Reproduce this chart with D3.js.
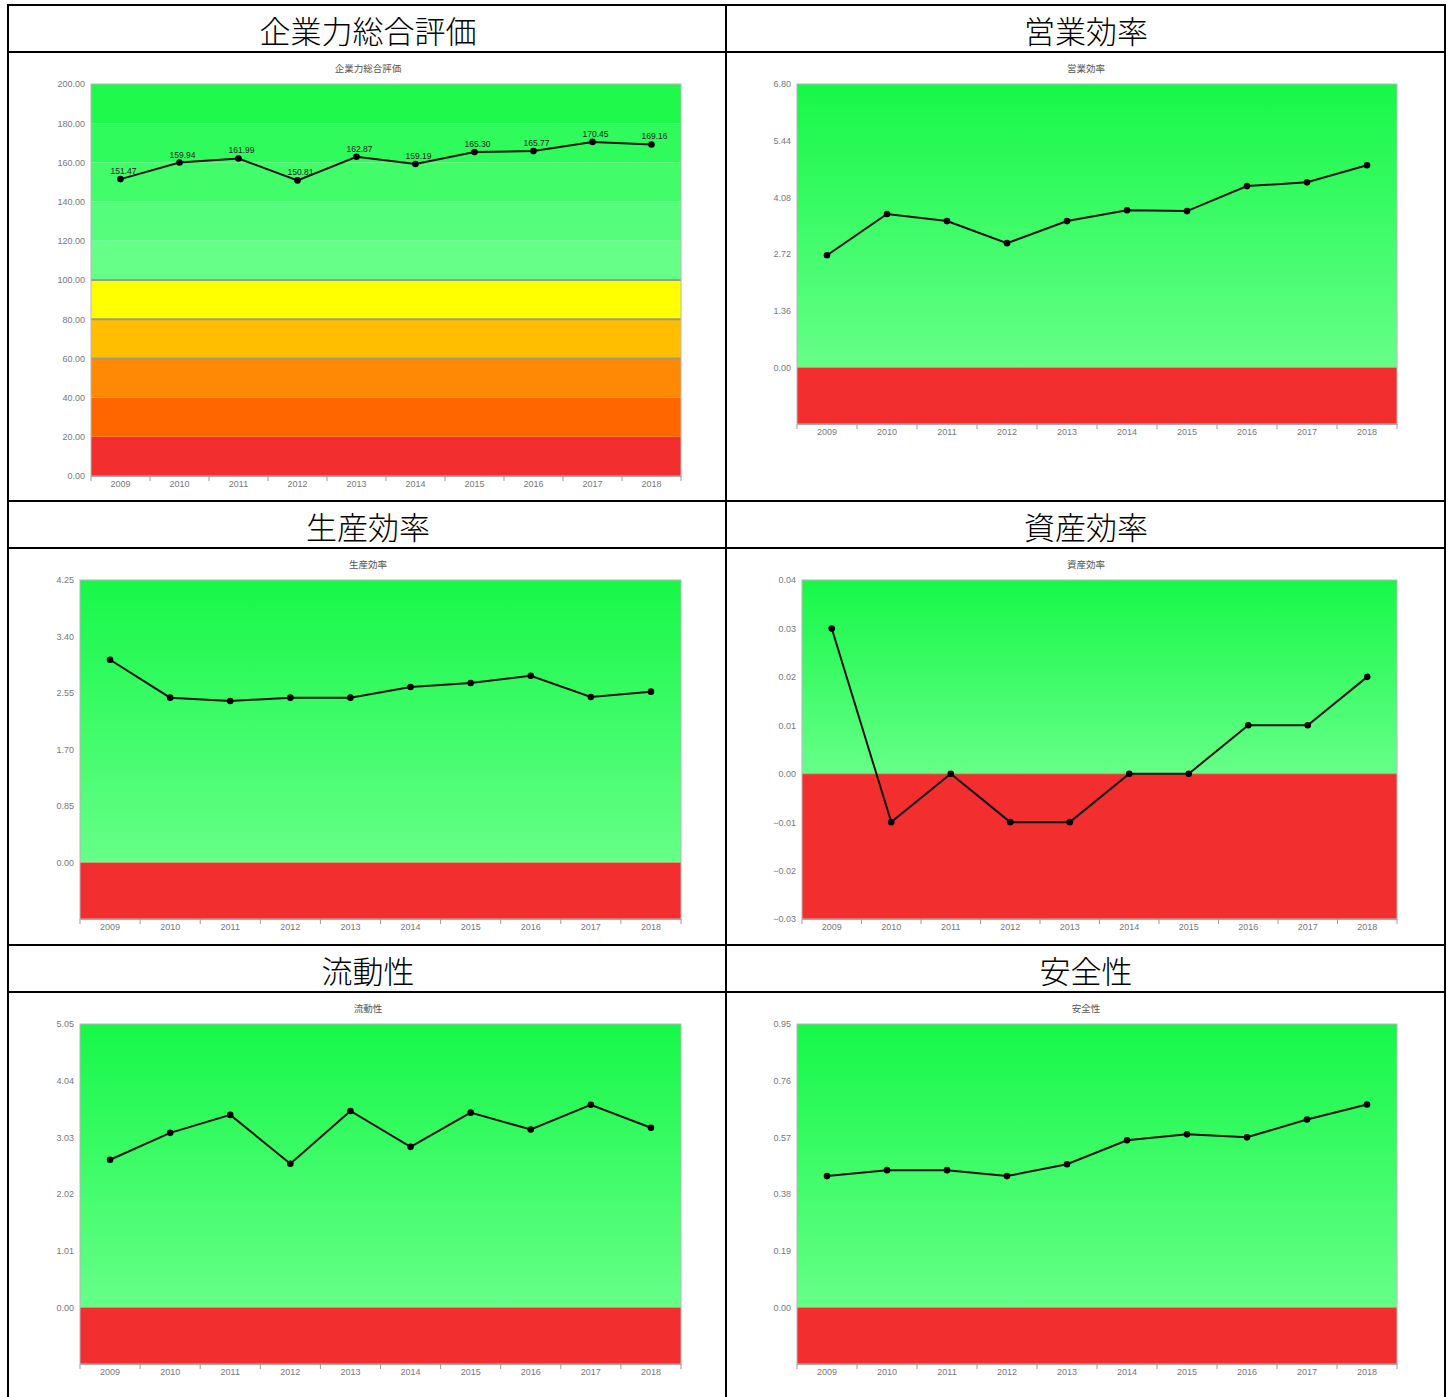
<!DOCTYPE html>
<html><head><meta charset="utf-8">
<script src="https://cdn.jsdelivr.net/npm/d3@7/dist/d3.min.js"></script>
<style>body{margin:0;background:#fff}svg{display:block}</style>
</head><body>
<svg id="c" width="1453" height="1397"></svg>
<script>
// ---- data ----
const years = ["2009","2010","2011","2012","2013","2014","2015","2016","2017","2018"];
const titles = ["企業力総合評価","営業効率","生産効率","資産効率","流動性","安全性"];
const overallValues = [151.47,159.94,161.99,150.81,162.87,159.19,165.30,165.77,170.45,169.16];
const salesEffValues = [2.69,3.68,3.51,2.98,3.51,3.77,3.75,4.35,4.44,4.85];
const prodEffValues = [3.05,2.48,2.43,2.48,2.48,2.64,2.70,2.81,2.49,2.57];
const assetEffValues = [0.03,-0.01,0.00,-0.01,-0.01,0.00,0.00,0.01,0.01,0.02];
const liquidityValues = [2.63,3.11,3.43,2.56,3.50,2.86,3.47,3.17,3.61,3.20];
const safetyValues = [0.44,0.46,0.46,0.44,0.48,0.56,0.58,0.57,0.63,0.68];
const overallTicks = [0,20,40,60,80,100,120,140,160,180,200];
const salesEffTicks = [0,1.36,2.72,4.08,5.44,6.80];
const prodEffTicks = [0,0.85,1.70,2.55,3.40,4.25];
const assetEffTicks = [-0.03,-0.02,-0.01,0,0.01,0.02,0.03,0.04];
const liquidityTicks = [0,1.01,2.02,3.03,4.04,5.05];
const safetyTicks = [0,0.19,0.38,0.57,0.76,0.95];
const overallBandEdges = [0,20,40,60,80,100,120,140,160,180,200];

// ---- layout ----
const svg = d3.select("#c");
const defs = svg.append("defs");
const RED = "#f22e2e";
const overallBandColors = ["#f22e2e","#ff6600","#ff8805","#ffbf00","#ffff00",
  "#66ff88","#55fd7c","#42fc6a","#30fb5c","#1ef94c"];

const charts = [
  {title:titles[0], values:overallValues, ticks:overallTicks, domain:[0,200], x0:91, x1:681, y0:84, y1:476, cx:368, ty:72, overall:true},
  {title:titles[1], values:salesEffValues, ticks:salesEffTicks, domain:[-1.36,6.80], x0:797, x1:1397, y0:84, y1:424, cx:1086, ty:72},
  {title:titles[2], values:prodEffValues, ticks:prodEffTicks, domain:[-0.85,4.25], x0:80, x1:681, y0:580, y1:919, cx:368, ty:568},
  {title:titles[3], values:assetEffValues, ticks:assetEffTicks, domain:[-0.03,0.04], x0:802, x1:1397, y0:580, y1:919, cx:1086, ty:568},
  {title:titles[4], values:liquidityValues, ticks:liquidityTicks, domain:[-1.01,5.05], x0:80, x1:681, y0:1024, y1:1364, cx:368, ty:1012},
  {title:titles[5], values:safetyValues, ticks:safetyTicks, domain:[-0.19,0.95], x0:797, x1:1397, y0:1024, y1:1364, cx:1086, ty:1012}
];

// gradient
const g = defs.append("linearGradient").attr("id","grn").attr("x1",0).attr("y1",0).attr("x2",0).attr("y2",1);
g.append("stop").attr("offset","0%").attr("stop-color","#16f848");
g.append("stop").attr("offset","100%").attr("stop-color","#66ff88");

const fmt = d3.format(".2f");

charts.forEach((c, i) => {
  const gc = svg.append("g");
  const x = d3.scaleBand().domain(years).range([c.x0, c.x1]);
  const y = d3.scaleLinear().domain(c.domain).range([c.y1, c.y0]);

  gc.append("text").attr("x", c.cx).attr("y", c.ty).attr("text-anchor","middle")
    .attr("font-family","'Noto Sans CJK JP'").attr("font-size",9.5).attr("fill","#555").text(c.title);

  if (c.overall) {
    for (let k = 0; k < overallBandEdges.length - 1; k++) {
      gc.append("rect").attr("x", c.x0).attr("width", c.x1 - c.x0)
        .attr("y", y(overallBandEdges[k+1])).attr("height", y(overallBandEdges[k]) - y(overallBandEdges[k+1]))
        .attr("fill", overallBandColors[k]);
    }
    [60,80,100].forEach(v => gc.append("line").attr("x1",c.x0).attr("x2",c.x1).attr("y1",y(v)).attr("y2",y(v))
      .attr("stroke","#a39a80").attr("stroke-width",2));
  } else {
    gc.append("rect").attr("x", c.x0).attr("width", c.x1 - c.x0).attr("y", y(c.domain[1]))
      .attr("height", y(0) - y(c.domain[1])).attr("fill","url(#grn)");
    gc.append("rect").attr("x", c.x0).attr("width", c.x1 - c.x0).attr("y", y(0))
      .attr("height", y(c.domain[0]) - y(0)).attr("fill", RED);
    gc.append("line").attr("x1",c.x0).attr("x2",c.x1).attr("y1",y(0)).attr("y2",y(0))
      .attr("stroke","#c8a070").attr("stroke-width",1);
  }
  gc.append("rect").attr("x",c.x0).attr("y",c.y0).attr("width",c.x1-c.x0).attr("height",c.y1-c.y0)
    .attr("fill","none").attr("stroke","#b8b8b8").attr("stroke-width",1);

  // y axis labels
  const ya = gc.append("g").attr("transform",`translate(${c.x0 - 6},0)`)
    .call(d3.axisLeft(y).tickValues(c.ticks).tickFormat(fmt).tickSize(0).tickPadding(0));
  ya.select(".domain").remove();
  ya.selectAll("text").attr("font-family","'Liberation Sans'").attr("font-size",9).attr("fill","#777")
    .attr("dy","0.32em");

  // x axis
  const xa = gc.append("g").attr("transform",`translate(0,${c.y1})`)
    .call(d3.axisBottom(x).tickSize(0).tickPadding(5));
  xa.select(".domain").attr("stroke","#aaa");
  xa.selectAll("text").attr("font-family","'Liberation Sans'").attr("font-size",9).attr("fill","#777");
  const edges = years.map(d => x(d)).concat([c.x1]);
  gc.selectAll(null).data(edges).join("line").attr("x1",d=>d).attr("x2",d=>d)
    .attr("y1",c.y1).attr("y2",c.y1+5).attr("stroke","#999").attr("stroke-width",1);

  // line + points
  const cxf = d => x(d) + x.bandwidth()/2;
  gc.append("path").datum(c.values.map((v,k)=>[cxf(years[k]), y(v)]))
    .attr("d", d3.line()).attr("fill","none").attr("stroke","#111").attr("stroke-width",2);
  gc.selectAll(null).data(c.values).join("circle")
    .attr("cx",(d,k)=>cxf(years[k])).attr("cy",d=>y(d)).attr("r",3.3).attr("fill","#000");
  if (c.overall) {
    gc.selectAll(null).data(c.values).join("text")
      .attr("x",(d,k)=>cxf(years[k]) + 3).attr("y",d=>y(d) - 5).attr("text-anchor","middle")
      .attr("font-family","'Liberation Sans'").attr("font-size",8.5).attr("fill","#222").text(fmt);
  }
});

// ---- table frame ----
const tb = svg.append("g");
const cols = [8, 726, 1445];
const hLines = [5, 52, 501, 548, 945, 992];
hLines.forEach(yy => tb.append("line").attr("x1",cols[0]-1).attr("x2",cols[2]+1).attr("y1",yy).attr("y2",yy)
  .attr("stroke","#000").attr("stroke-width",2));
cols.forEach(xx => tb.append("line").attr("x1",xx).attr("x2",xx).attr("y1",4).attr("y2",1397)
  .attr("stroke","#000").attr("stroke-width",2));
const heads = [[0,368,29],[1,1086,29],[2,368,525],[3,1086,525],[4,368,969],[5,1086,969]];
heads.forEach(([k,xx,yy]) => tb.append("text").attr("x",xx).attr("y",yy).attr("text-anchor","middle")
  .attr("dominant-baseline","central").attr("font-family","'Noto Sans CJK JP'").attr("font-weight",300)
  .attr("font-size",31).attr("fill","#000").text(titles[k]));
</script>
</body></html>
